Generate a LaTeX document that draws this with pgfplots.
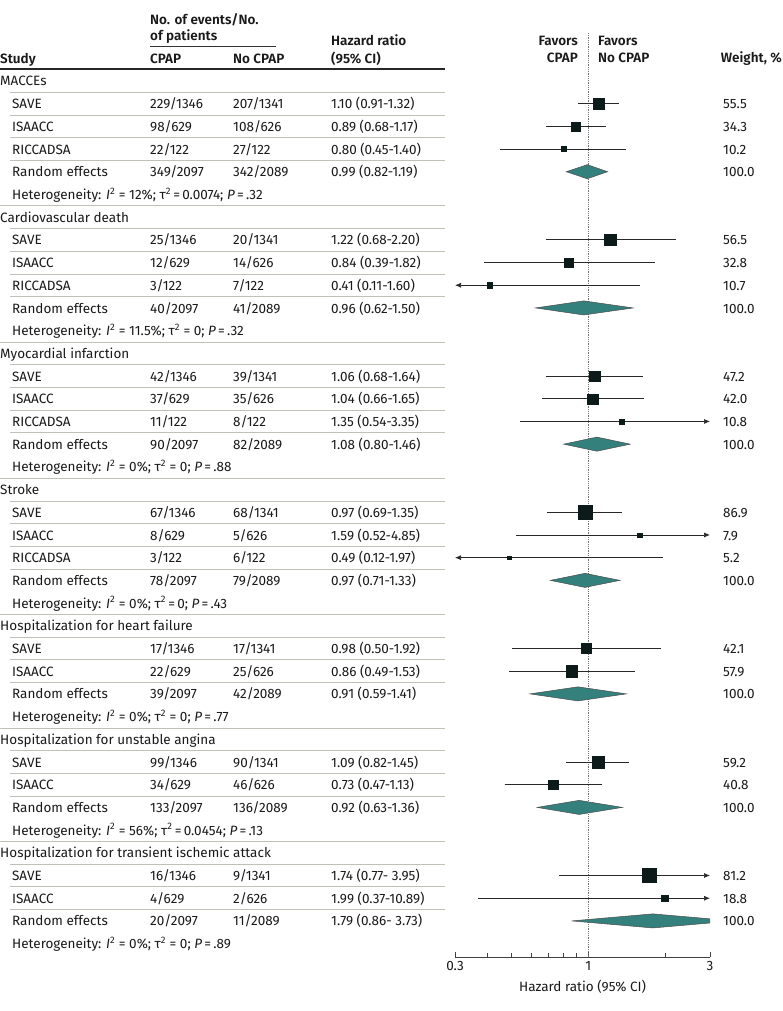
\documentclass[border=0pt]{standalone}
\usepackage{fontspec}
\setmainfont{Fira Sans}[BoldFont={Fira Sans SemiBold}]
\usepackage{pgfplots}
\usepackage{pgfplotstable}
\pgfplotsset{compat=1.18}
\usetikzlibrary{arrows.meta}

\definecolor{diam}{RGB}{52,128,124}
\definecolor{sq}{RGB}{12,26,26}
\definecolor{sepc}{RGB}{192,192,180}
\definecolor{cic}{RGB}{40,40,40}
\definecolor{txt}{RGB}{25,25,25}

% row i -> baseline / centre (in pt, picture measured from the top)
\newcommand\RB[1]{{-(86+22.7*(#1))*1pt}}
\newcommand\RC[1]{{-(81+22.7*(#1))*1pt}}

\newcommand\study[6]{%
  \node[anchor=base west] at (12pt,\RB{#1}) {#2};
  \node[anchor=base west] at (150pt,\RB{#1}) {#3};
  \node[anchor=base west] at (233pt,\RB{#1}) {#4};
  \node[anchor=base west] at (331pt,\RB{#1}) {#5};
  \node[anchor=base west] at (723pt,\RB{#1}) {#6};
}
\newcommand\grp[2]{\node[anchor=base west] at (0pt,\RB{#1}) {#2};}
\newcommand\het[2]{\node[anchor=base west] at (12pt,\RB{#1}) {Heterogeneity: #2};}
\newcommand\sepl[2]{\draw[sepc, line width=0.8pt] (#1pt,\RC{#2}) -- (445pt,\RC{#2});}

% study estimates: row, hazard ratio, weight
\pgfplotstableread{
row hr w
1 1.10 55.5
2 0.89 34.3
3 0.80 10.2
7 1.22 56.5
8 0.84 32.8
9 0.41 10.7
13 1.06 47.2
14 1.04 42.0
15 1.35 10.8
19 0.97 86.9
20 1.59 7.9
21 0.49 5.2
25 0.98 42.1
26 0.86 57.9
30 1.09 59.2
31 0.73 40.8
35 1.74 81.2
36 1.99 18.8
}\studies

\newcommand\ci[3]{\addplot[cic, line width=0.7pt, forget plot] coordinates {(#2,-#1) (#3,-#1)};}
\newcommand\ciR[2]{\addplot[cic, line width=0.7pt, -{Latex[length=6pt,width=5pt]}, forget plot] coordinates {(#2,-#1) (3,-#1)};}
\newcommand\ciL[2]{\addplot[cic, line width=0.7pt, {Latex[length=6pt,width=5pt]}-, forget plot] coordinates {(0.3,-#1) (#2,-#1)};}

\begin{document}
\begin{tikzpicture}[every node/.style={inner sep=0pt, text=txt}, font=\fontsize{13.5}{16}\selectfont]

% header
\begin{scope}[every node/.append style={font=\fontsize{13.5}{16}\selectfont\bfseries}]
\node[anchor=base west] at (150pt,-25pt) {No. of events/No.};
\node[anchor=base west] at (150pt,-41pt) {of patients};
\node[anchor=base west] at (0pt,-64pt) {Study};
\node[anchor=base west] at (150pt,-64pt) {CPAP};
\node[anchor=base west] at (233pt,-64pt) {No CPAP};
\node[anchor=base west] at (331pt,-46pt) {Hazard ratio};
\node[anchor=base west] at (331pt,-64pt) {(95\% CI)};
\node[anchor=base east] at (578pt,-46pt) {Favors};
\node[anchor=base east] at (578pt,-63pt) {CPAP};
\node[anchor=base west] at (598pt,-46pt) {Favors};
\node[anchor=base west] at (598pt,-63pt) {No CPAP};
\node[anchor=base east] at (782pt,-63pt) {Weight, \%};
\end{scope}
\draw[black!80, line width=0.8pt] (150pt,-46pt) -- (276pt,-46pt);
\draw[black!85, line width=1.4pt] (0pt,-69pt) -- (445pt,-69pt);

% separators
\foreach \r in {0.5,1.5,2.5,3.5,6.5,7.5,8.5,9.5,12.5,13.5,14.5,15.5,18.5,19.5,20.5,21.5,24.5,25.5,26.5,29.5,30.5,31.5,34.5,35.5,36.5} {\sepl{10}{\r}}
\foreach \r in {5.5,11.5,17.5,23.5,28.5,33.5} {\sepl{0}{\r}}

% MACCEs
\grp{0}{MACCEs}
\study{1}{SAVE}{229/1346}{207/1341}{1.10 (0.91-1.32)}{55.5}
\study{2}{ISAACC}{98/629}{108/626}{0.89 (0.68-1.17)}{34.3}
\study{3}{RICCADSA}{22/122}{27/122}{0.80 (0.45-1.40)}{10.2}
\study{4}{Random effects}{349/2097}{342/2089}{0.99 (0.82-1.19)}{100.0}
\het{5}{\textit{I}\textsuperscript{2} = 12\%; τ\textsuperscript{2}\,=\,0.0074; \textit{P}\,=\,.32}
% Cardiovascular death
\grp{6}{Cardiovascular death}
\study{7}{SAVE}{25/1346}{20/1341}{1.22 (0.68-2.20)}{56.5}
\study{8}{ISAACC}{12/629}{14/626}{0.84 (0.39-1.82)}{32.8}
\study{9}{RICCADSA}{3/122}{7/122}{0.41 (0.11-1.60)}{10.7}
\study{10}{Random effects}{40/2097}{41/2089}{0.96 (0.62-1.50)}{100.0}
\het{11}{\textit{I}\textsuperscript{2} = 11.5\%; τ\textsuperscript{2} = 0; \textit{P}\,=\,.32}
% Myocardial infarction
\grp{12}{Myocardial infarction}
\study{13}{SAVE}{42/1346}{39/1341}{1.06 (0.68-1.64)}{47.2}
\study{14}{ISAACC}{37/629}{35/626}{1.04 (0.66-1.65)}{42.0}
\study{15}{RICCADSA}{11/122}{8/122}{1.35 (0.54-3.35)}{10.8}
\study{16}{Random effects}{90/2097}{82/2089}{1.08 (0.80-1.46)}{100.0}
\het{17}{\textit{I}\textsuperscript{2} = 0\%; τ\textsuperscript{2} = 0; \textit{P}\,=\,.88}
% Stroke
\grp{18}{Stroke}
\study{19}{SAVE}{67/1346}{68/1341}{0.97 (0.69-1.35)}{86.9}
\study{20}{ISAACC}{8/629}{5/626}{1.59 (0.52-4.85)}{7.9}
\study{21}{RICCADSA}{3/122}{6/122}{0.49 (0.12-1.97)}{5.2}
\study{22}{Random effects}{78/2097}{79/2089}{0.97 (0.71-1.33)}{100.0}
\het{23}{\textit{I}\textsuperscript{2} = 0\%; τ\textsuperscript{2}\,=\,0; \textit{P}\,=\,.43}
% Heart failure
\grp{24}{Hospitalization for heart failure}
\study{25}{SAVE}{17/1346}{17/1341}{0.98 (0.50-1.92)}{42.1}
\study{26}{ISAACC}{22/629}{25/626}{0.86 (0.49-1.53)}{57.9}
\study{27}{Random effects}{39/2097}{42/2089}{0.91 (0.59-1.41)}{100.0}
\het{28}{\textit{I}\textsuperscript{2} = 0\%; τ\textsuperscript{2} = 0; \textit{P}\,=\,.77}
% Unstable angina
\grp{29}{Hospitalization for unstable angina}
\study{30}{SAVE}{99/1346}{90/1341}{1.09 (0.82-1.45)}{59.2}
\study{31}{ISAACC}{34/629}{46/626}{0.73 (0.47-1.13)}{40.8}
\study{32}{Random effects}{133/2097}{136/2089}{0.92 (0.63-1.36)}{100.0}
\het{33}{\textit{I}\textsuperscript{2} = 56\%; τ\textsuperscript{2}\,=\,0.0454; \textit{P}\,=\,.13}
% TIA
\grp{34}{Hospitalization for transient ischemic attack}
\study{35}{SAVE}{16/1346}{9/1341}{1.74 (0.77- 3.95)}{81.2}
\study{36}{ISAACC}{4/629}{2/626}{1.99 (0.37-10.89)}{18.8}
\study{37}{Random effects}{20/2097}{11/2089}{1.79 (0.86- 3.73)}{100.0}
\het{38}{\textit{I}\textsuperscript{2} = 0\%; τ\textsuperscript{2} = 0; \textit{P}\,=\,.89}

\begin{axis}[
  at={(455pt,-957pt)}, anchor=south west,
  scale only axis, width=255pt, height=924pt,
  xmode=log, xmin=0.3, xmax=3,
  ymin=-38.59, ymax=2.11,
  axis x line=bottom, axis y line=none,
  x axis line style={-, draw=black!75, line width=0.8pt},
  xtick={0.3,1,3}, xticklabels={0.3,1,3},
  minor xtick={0.4,0.5,0.6,0.7,0.8,0.9,2},
  tick align=inside, major tick length=5pt, minor tick length=4pt,
  every tick/.style={black!75, line width=0.7pt},
  xticklabel style={font=\fontsize{13.5}{16}\selectfont, text=txt, yshift=-4pt},
  xlabel={Hazard ratio (95\% CI)},
  xlabel style={font=\fontsize{13.5}{16}\selectfont, text=txt, yshift=-9pt},
  clip mode=individual,
]
\addplot[densely dotted, black!55, line width=0.8pt, forget plot] coordinates {(1,2.11) (1,-38.59)};

% confidence intervals
\ci{1}{0.91}{1.32} \ci{2}{0.68}{1.17} \ci{3}{0.45}{1.40}
\ci{7}{0.68}{2.20} \ci{8}{0.39}{1.82} \ciL{9}{1.60}
\ci{13}{0.68}{1.64} \ci{14}{0.66}{1.65} \ciR{15}{0.54}
\ci{19}{0.69}{1.35} \ciR{20}{0.52} \ciL{21}{1.97}
\ci{25}{0.50}{1.92} \ci{26}{0.49}{1.53}
\ci{30}{0.82}{1.45} \ci{31}{0.47}{1.13}
\ciR{35}{0.77} \ciR{36}{0.37}

% study squares, size from weight
\addplot[scatter, only marks, mark=square*,
  scatter/use mapped color={draw=sq, fill=sq},
  visualization depends on={0.775*sqrt(\thisrow{w}) \as \msz},
  scatter/@pre marker code/.append style={/tikz/mark size=\msz}]
  table[x=hr, y expr=-\thisrow{row}] {\studies};

% pooled estimates
\addplot[fill=diam, draw=black!70, line width=0.5pt] coordinates {(0.82,-4) (0.99,-3.69) (1.19,-4) (0.99,-4.31)} -- cycle;
\addplot[fill=diam, draw=black!70, line width=0.5pt] coordinates {(0.62,-10) (0.96,-9.69) (1.50,-10) (0.96,-10.31)} -- cycle;
\addplot[fill=diam, draw=black!70, line width=0.5pt] coordinates {(0.80,-16) (1.08,-15.69) (1.46,-16) (1.08,-16.31)} -- cycle;
\addplot[fill=diam, draw=black!70, line width=0.5pt] coordinates {(0.71,-22) (0.97,-21.69) (1.33,-22) (0.97,-22.31)} -- cycle;
\addplot[fill=diam, draw=black!70, line width=0.5pt] coordinates {(0.59,-27) (0.91,-26.69) (1.41,-27) (0.91,-27.31)} -- cycle;
\addplot[fill=diam, draw=black!70, line width=0.5pt] coordinates {(0.63,-32) (0.92,-31.69) (1.36,-32) (0.92,-32.31)} -- cycle;
\addplot[fill=diam, draw=black!70, line width=0.5pt] coordinates {(0.86,-37) (1.79,-36.69) (3.73,-37) (1.79,-37.31)} -- cycle;
\end{axis}

\pgfresetboundingbox
\path[use as bounding box] (0pt,0pt) rectangle (783pt,-1011pt);
\end{tikzpicture}
\end{document}
